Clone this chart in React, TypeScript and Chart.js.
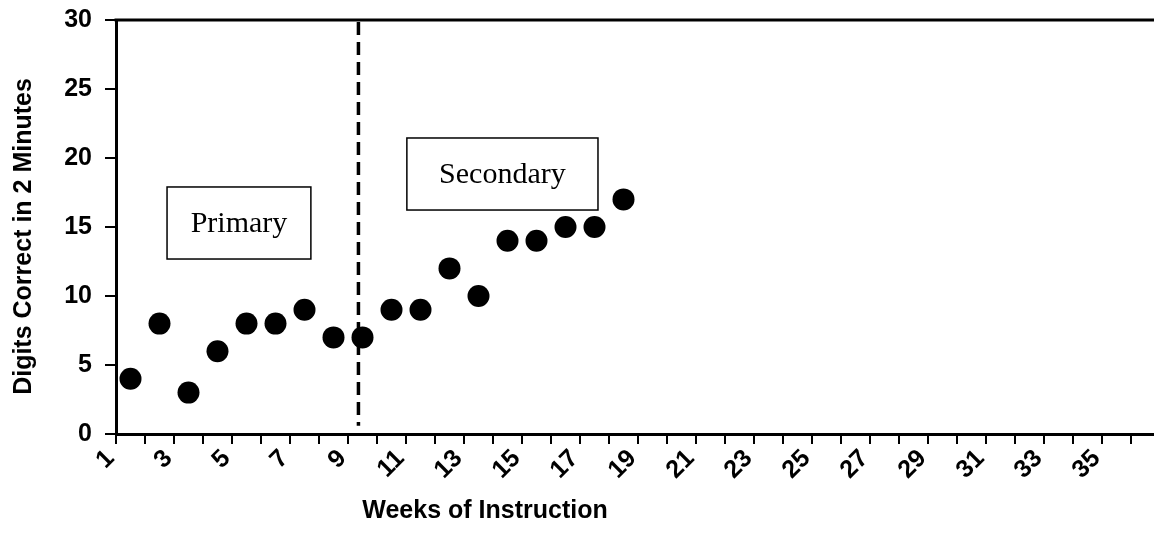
import { useEffect, useRef } from "react";
import { Chart, registerables } from "chart.js";

Chart.register(...registerables);

// Categories (weeks of instruction)
const weeks: string[] = [
  "1", "2", "3", "4", "5", "6", "7", "8", "9", "10", "11", "12",
  "13", "14", "15", "16", "17", "18", "19", "20", "21", "22", "23", "24",
  "25", "26", "27", "28", "29", "30", "31", "32", "33", "34", "35", "36",
];

// Digits correct in 2 minutes, weeks 1..18
const digitsCorrect: number[] = [4, 8, 3, 6, 8, 8, 9, 7, 7, 9, 9, 12, 10, 14, 14, 15, 15, 17];

// Y axis ticks
const yTicks: number[] = [0, 5, 10, 15, 20, 25, 30];

// Phase annotation (data units: category index / y value)
const phaseLabels: string[] = ["Primary", "Secondary"];
const phaseBoxX: number[][] = [[1.26, 6.22], [9.53, 16.12]];
const phaseBoxY: number[][] = [[12.68, 17.9], [16.23, 21.45]];
const phaseChangeAt = 7.86;
const phaseLineBottom = 0.6;

const xTitle = "Weeks of Instruction";
const yTitle = "Digits Correct in 2 Minutes";

const SANS = "'Liberation Sans', Arial, sans-serif";
const SERIF = "'Liberation Serif', 'Times New Roman', serif";

const zeroPadding = (scale: any) => {
  scale.paddingTop = 0;
  scale.paddingBottom = 0;
  scale.paddingLeft = 0;
  scale.paddingRight = 0;
};

const annotationPlugin = {
  id: "phaseAnnotations",
  beforeDatasetsDraw(chart: any) {
    const { ctx, scales } = chart;
    const x = scales.x;
    const y = scales.y;
    ctx.save();
    // phase change dashed line
    const px = x.getPixelForValue(phaseChangeAt);
    ctx.strokeStyle = "#000";
    ctx.lineWidth = 3.5;
    ctx.setLineDash([13, 7]);
    ctx.beginPath();
    ctx.moveTo(px, y.getPixelForValue(yTicks[yTicks.length - 1]) + 2);
    ctx.lineTo(px, y.getPixelForValue(phaseLineBottom));
    ctx.stroke();
    ctx.setLineDash([]);
    // boxes
    for (let i = 0; i < phaseLabels.length; i++) {
      const x0 = x.getPixelForValue(phaseBoxX[i][0]);
      const x1 = x.getPixelForValue(phaseBoxX[i][1]);
      const y0 = y.getPixelForValue(phaseBoxY[i][1]);
      const y1 = y.getPixelForValue(phaseBoxY[i][0]);
      ctx.fillStyle = "#fff";
      ctx.fillRect(x0, y0, x1 - x0, y1 - y0);
      ctx.lineWidth = 1.5;
      ctx.strokeStyle = "#000";
      ctx.strokeRect(x0, y0, x1 - x0, y1 - y0);
      ctx.fillStyle = "#000";
      ctx.font = `30px ${SERIF}`;
      ctx.textAlign = "center";
      ctx.textBaseline = "middle";
      ctx.fillText(phaseLabels[i], (x0 + x1) / 2, (y0 + y1) / 2 + 1);
    }
    ctx.restore();
  },
  afterDraw(chart: any) {
    const { ctx, chartArea } = chart;
    ctx.save();
    ctx.strokeStyle = "#000";
    ctx.lineWidth = 3;
    ctx.beginPath();
    ctx.moveTo(chartArea.left - 1.5, chartArea.top);
    ctx.lineTo(chartArea.right + 2, chartArea.top);
    ctx.stroke();
    ctx.fillStyle = "#000";
    ctx.font = `bold 25px ${SANS}`;
    ctx.textAlign = "center";
    ctx.textBaseline = "alphabetic";
    ctx.fillText(xTitle, 485, 518);
    ctx.translate(31, 236.5);
    ctx.rotate(-Math.PI / 2);
    ctx.fillText(yTitle, 0, 0);
    ctx.restore();
  },
};

export default function App() {
  const canvasRef = useRef<HTMLCanvasElement | null>(null);

  useEffect(() => {
    const canvas = canvasRef.current;
    if (!canvas) return;
    const chart = new Chart(canvas, {
      type: "line",
      data: {
        labels: weeks,
        datasets: [
          {
            data: digitsCorrect,
            showLine: false,
            pointRadius: 11,
            pointHoverRadius: 11,
            pointBackgroundColor: "#000",
            pointBorderColor: "#000",
            pointBorderWidth: 0,
          },
        ],
      },
      options: {
        animation: false,
        responsive: false,
        devicePixelRatio: 1,
        events: [],
        layout: { padding: { top: 20, left: 0, right: 12, bottom: 0 } },
        plugins: { legend: { display: false }, tooltip: { enabled: false } },
        scales: {
          x: {
            type: "category",
            offset: true,
            grid: {
              offset: true,
              drawOnChartArea: false,
              drawTicks: true,
              tickLength: 10,
              color: "#000",
              lineWidth: 2,
            },
            border: { display: true, color: "#000", width: 3 },
            ticks: {
              autoSkip: false,
              maxRotation: 45,
              minRotation: 45,
              labelOffset: -20,
              padding: 0,
              color: "#000",
              font: { family: SANS, weight: "bold", size: 25 },
              callback: (_v: any, i: number) => (i % 2 === 0 ? weeks[i] : ""),
            },
            afterFit: (scale: any) => {
              scale.height = 117;
              zeroPadding(scale);
            },
          },
          y: {
            min: 0,
            max: 30,
            grid: {
              drawOnChartArea: false,
              drawTicks: true,
              tickLength: 11,
              color: "#000",
              lineWidth: 2,
            },
            border: { display: true, color: "#000", width: 3 },
            ticks: {
              stepSize: 5,
              padding: 13,
              color: "#000",
              font: { family: SANS, weight: "bold", size: 25 },
              callback: (v: any) => (yTicks.includes(Number(v)) ? String(v) : ""),
            },
            afterFit: (scale: any) => {
              scale.width = 116;
              zeroPadding(scale);
            },
          },
        },
      },
      plugins: [annotationPlugin],
    });
    return () => chart.destroy();
  }, []);

  return (
    <div
      style={{
        position: "fixed",
        left: 0,
        top: 0,
        width: 1154,
        height: 551,
        overflow: "hidden",
        background: "#fff",
      }}
    >
      <canvas ref={canvasRef} width={1172} height={551} style={{ display: "block" }} />
    </div>
  );
}
